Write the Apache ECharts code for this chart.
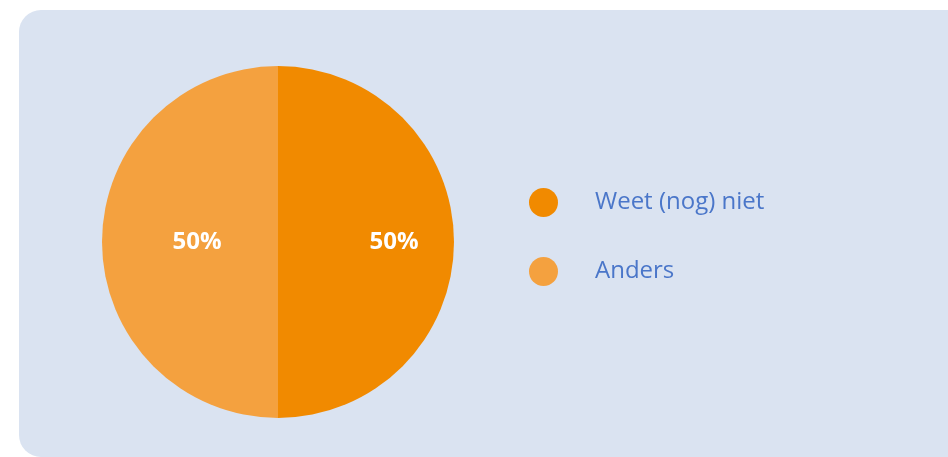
<!DOCTYPE html>
<html>
<head>
<meta charset="utf-8">
<script src="https://cdn.jsdelivr.net/npm/echarts@6/dist/echarts.min.js"></script>
<style>
    html, body {margin: 0;padding: 0;background: #fff;}
    #chart {width: 948px;height: 457px;}
</style>
</head>
<body>
<div id="chart"></div>
<script>
// data
const categories = ['Weet (nog) niet', 'Anders'];
const values = [50, 50];
const colors = ['#f18a00', '#f4a13f'];

const pieData = categories.map((name, i) => ({value: values[i], name: name}));
// label ring: left label sits closer to the centre in the original
const labelData = categories.map((name, i) => ({
    value: values[i],
    name: name,
    label: {padding: i === 1 ? [0, 0, 8, 74] : [0, 4, 8, 0]}
}));

let myChart = echarts.init(document.getElementById('chart'));
myChart.setOption({
    animation: false,
    color: colors,
    graphic: [
        {
            type: 'rect',
            z: -10,
            shape: {x: 19, y: 10, width: 980, height: 447, r: 22},
            style: {fill: '#dae3f1'}
        }
    ],
    legend: {
        orient: 'vertical',
        left: 529,
        top: 188,
        padding: 0,
        icon: 'circle',
        itemWidth: 29,
        itemHeight: 29,
        itemGap: 40,
        data: categories,
        textStyle: {
            color: '#4a76c9',
            fontSize: 24,
            fontFamily: 'Open Sans',
            padding: [5, 0, 0, 32]
        }
    },
    series: [
        {
            // full pie, no labels
            name: 'pie',
            type: 'pie',
            center: [278, 242],
            radius: [0, 176],
            startAngle: 90,
            clockwise: true,
            label: {show: false},
            labelLine: {show: false},
            itemStyle: {borderWidth: 0},
            emphasis: {disabled: true},
            data: pieData
        },
        {
            // transparent ring only to place the percentage labels
            name: 'labels',
            type: 'pie',
            center: [278, 242],
            radius: [54, 176],
            startAngle: 90,
            clockwise: true,
            silent: true,
            legendHoverLink: false,
            itemStyle: {color: 'rgba(0,0,0,0)', borderWidth: 0},
            label: {
                show: true,
                position: 'inside',
                formatter: '{d}%',
                color: '#fff',
                fontSize: 24,
                fontWeight: 'bold',
                fontFamily: 'Open Sans'
            },
            labelLine: {show: false},
            emphasis: {disabled: true},
            data: labelData
        }
    ]
});
</script>
</body>
</html>
